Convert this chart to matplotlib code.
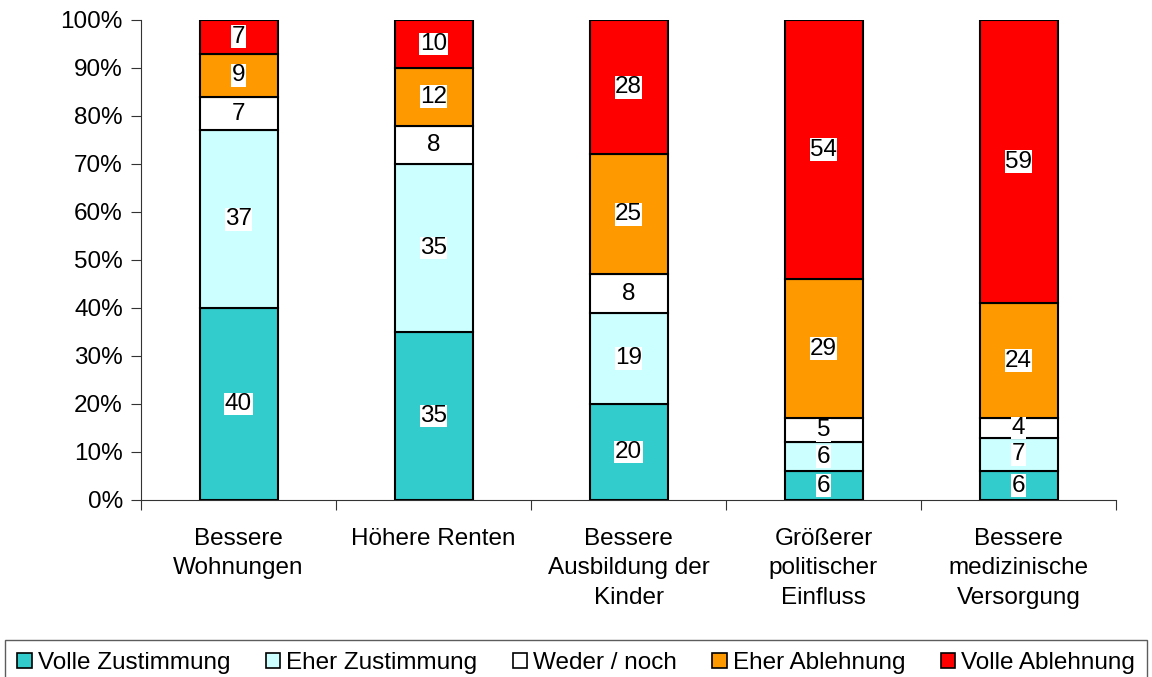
import numpy as np
import matplotlib
matplotlib.use("Agg")
import matplotlib.pyplot as plt
from matplotlib.patches import Patch

plt.rcParams['font.family'] = ['Liberation Sans', 'DejaVu Sans']

# ---- data ----
categories = ["Bessere\nWohnungen", "Höhere Renten", "Bessere\nAusbildung der\nKinder",
              "Größerer\npolitischer\nEinfluss", "Bessere\nmedizinische\nVersorgung"]
series_names = ["Volle Zustimmung", "Eher Zustimmung", "Weder / noch",
                "Eher Ablehnung", "Volle Ablehnung"]
volle_zustimmung = [40, 35, 20, 6, 6]
eher_zustimmung = [37, 35, 19, 6, 7]
weder_noch = [7, 8, 8, 5, 4]
eher_ablehnung = [9, 12, 25, 29, 24]
volle_ablehnung = [7, 10, 28, 54, 59]
colors = ["#33CCCC", "#CCFFFF", "#FFFFFF", "#FF9900", "#FF0000"]

series = [volle_zustimmung, eher_zustimmung, weder_noch, eher_ablehnung, volle_ablehnung]
data = np.array(series, dtype=float)
pct = data / data.sum(axis=0) * 100

fig = plt.figure(figsize=(11.52, 6.77), dpi=100)
ax = fig.add_axes([141/1152, 1 - 500/677, 975/1152, 480/677])

x = np.arange(len(categories))
bottom = np.zeros(len(categories))
for i, name in enumerate(series_names):
    ax.bar(x, pct[i], 0.4, bottom=bottom, color=colors[i], edgecolor="black",
           linewidth=1.5, label=name)
    for j in range(len(categories)):
        ax.text(x[j], bottom[j] + pct[i][j] / 2, f"{int(data[i][j])}",
                ha="center", va="center", fontsize=17.5,
                bbox=dict(facecolor="white", edgecolor="none", pad=0.3))
    bottom += pct[i]

ax.set_xlim(-0.5, len(categories) - 0.5)
ax.set_ylim(0, 100)
ax.set_yticks(np.arange(0, 101, 10))
ax.set_yticklabels([f"{v}%" for v in range(0, 101, 10)], fontsize=17.5)
ax.set_xticks(np.arange(-0.5, len(categories), 1))
ax.set_xticklabels([])
ax.set_xticks(x, minor=True)
ax.set_xticklabels(categories, minor=True, fontsize=17.5, linespacing=1.45)
ax.tick_params(axis="x", which="minor", length=0, pad=20)
ax.tick_params(axis="x", which="major", length=7, direction="out", color="#333333")
ax.tick_params(axis="y", length=7, direction="out", color="#333333", pad=6)
for s in ["top", "right"]:
    ax.spines[s].set_visible(False)
ax.spines["left"].set_color("#333333")
ax.spines["bottom"].set_color("#333333")

handles = [Patch(facecolor=c, edgecolor="black", linewidth=1.2) for c in colors]
leg = fig.legend(handles, series_names, loc="upper left", bbox_to_anchor=(5/1152, 1 - 640/677),
                 ncol=5, fontsize=17.5, frameon=True, fancybox=False, handlelength=0.6,
                 handleheight=0.6, handletextpad=0.25, columnspacing=1.45,
                 borderpad=0.5, borderaxespad=0)
leg.get_frame().set_edgecolor("#333333")
leg.get_frame().set_linewidth(1.0)

fig.savefig("out.png", dpi=100)
